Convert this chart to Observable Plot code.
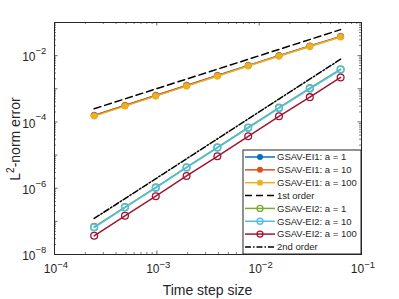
<!DOCTYPE html>
<html>
<head>
<meta charset="utf-8">
<script src="https://cdn.jsdelivr.net/npm/d3@7"></script>
<script src="https://cdn.jsdelivr.net/npm/@observablehq/plot@0.6"></script>
<style>
html,body{margin:0;padding:0;background:#fff;}
#chart{width:399px;height:299px;overflow:hidden;}
</style>
</head>
<body>
<div id="chart"></div>
<script>
// ---- data ----
const dt = [2.44140625e-4, 4.8828125e-4, 9.765625e-4, 1.953125e-3, 3.90625e-3, 7.8125e-3, 1.5625e-2, 3.125e-2, 6.25e-2];
const ei1_a1   = [1.58e-4, 3.15e-4, 6.3e-4, 1.26e-3, 2.52e-3, 5.05e-3, 1.0e-2, 1.95e-2, 3.8e-2];
const ei1_a10  = [1.57e-4, 3.13e-4, 6.25e-4, 1.25e-3, 2.5e-3, 5.0e-3, 9.9e-3, 1.93e-2, 3.75e-2];
const ei1_a100 = [1.5e-4, 3.0e-4, 6.0e-4, 1.2e-3, 2.4e-3, 4.85e-3, 9.6e-3, 1.88e-2, 3.65e-2];
const ei2_a1   = [6.8e-8, 2.7e-7, 1.06e-6, 4.3e-6, 1.72e-5, 6.8e-5, 2.7e-4, 1.05e-3, 3.9e-3];
const ei2_a10  = [6.5e-8, 2.6e-7, 1.02e-6, 4.15e-6, 1.66e-5, 6.55e-5, 2.6e-4, 1.0e-3, 3.75e-3];
const ei2_a100 = [3.66e-8, 1.47e-7, 5.74e-7, 2.34e-6, 9.2e-6, 3.68e-5, 1.48e-4, 5.6e-4, 2.2e-3];
const order1_x = [2.44140625e-4, 6.25e-2];
const order1_y = [2.5e-4, 6.1e-2];
const order2_x = [2.44140625e-4, 6.25e-2];
const order2_y = [1.22e-7, 7.8e-3];

const xTickVals = [1e-4, 1e-3, 1e-2, 1e-1];
const xTickExp  = ["\u22124", "\u22123", "\u22122", "\u22121"];
const yTickVals = [1e-8, 1e-6, 1e-4, 1e-2];
const yTickExp  = ["\u22128", "\u22126", "\u22124", "\u22122"];
const yMajorVals = [1e-8, 1e-7, 1e-6, 1e-5, 1e-4, 1e-3, 1e-2, 1e-1];

const legendLabels = ["GSAV-EI1: a = 1", "GSAV-EI1: a = 10", "GSAV-EI1: a = 100", "1st order",
                      "GSAV-EI2: a = 1", "GSAV-EI2: a = 10", "GSAV-EI2: a = 100", "2nd order"];
const colors = {blue:"#0072BD", orange:"#D95319", yellow:"#EDB120", green:"#77AC30", cyan:"#4DBEEE", red:"#A2142F"};

const xLabel = "Time step size";

// ---- helpers ----
const tbl = (xs, ys) => xs.map((x, i) => ({x, y: ys[i]}));
const minorOf = majors => {
  const out = [];
  for (let i = 0; i < majors.length - 1; i++) for (let k = 2; k <= 9; k++) out.push(majors[i] * k);
  return out;
};

const W = 399, H = 299, mL = 54, mR = 38, mT = 22, mB = 45;
const pW = W - mL - mR, pH = H - mT - mB;
const axisColor = "#262626";
const font = "'Liberation Sans', Arial, Helvetica, sans-serif";

const xMinor = minorOf(xTickVals);
const yMinor = minorOf(yMajorVals);

const series1 = [
  {d: tbl(dt, ei1_a1), c: colors.blue},
  {d: tbl(dt, ei1_a10), c: colors.orange},
  {d: tbl(dt, ei1_a100), c: colors.yellow}
];
const series2 = [
  {d: tbl(dt, ei2_a1), c: colors.green},
  {d: tbl(dt, ei2_a10), c: colors.cyan},
  {d: tbl(dt, ei2_a100), c: colors.red}
];

const marks = [];
// ticks (inside, all four sides)
const majLen = 3.5, minLen = 2;
marks.push(Plot.tickX(xTickVals, {x: d => d, insetTop: pH - majLen, stroke: axisColor, strokeWidth: 0.7}));
marks.push(Plot.tickX(xTickVals, {x: d => d, insetBottom: pH - majLen, stroke: axisColor, strokeWidth: 0.7}));
marks.push(Plot.tickX(xMinor, {x: d => d, insetTop: pH - minLen, stroke: axisColor, strokeWidth: 0.6}));
marks.push(Plot.tickX(xMinor, {x: d => d, insetBottom: pH - minLen, stroke: axisColor, strokeWidth: 0.6}));
marks.push(Plot.tickY(yMajorVals, {y: d => d, insetRight: pW - majLen, stroke: axisColor, strokeWidth: 0.7}));
marks.push(Plot.tickY(yMajorVals, {y: d => d, insetLeft: pW - majLen, stroke: axisColor, strokeWidth: 0.7}));
marks.push(Plot.tickY(yMinor, {y: d => d, insetRight: pW - minLen, stroke: axisColor, strokeWidth: 0.6}));
marks.push(Plot.tickY(yMinor, {y: d => d, insetLeft: pW - minLen, stroke: axisColor, strokeWidth: 0.6}));

// EI1 series
for (const s of series1) {
  marks.push(Plot.line(s.d, {x: "x", y: "y", stroke: s.c, strokeWidth: 1.5}));
  marks.push(Plot.dot(s.d, {x: "x", y: "y", r: 3.2, fill: s.c, stroke: s.c, strokeWidth: 0.5}));
}
marks.push(Plot.line(tbl(order1_x, order1_y), {x: "x", y: "y", stroke: "#000", strokeWidth: 1.5, strokeDasharray: "7,4"}));
for (const s of series2) {
  marks.push(Plot.line(s.d, {x: "x", y: "y", stroke: s.c, strokeWidth: 1.5}));
  marks.push(Plot.dot(s.d, {x: "x", y: "y", r: 3.4, fill: "none", stroke: s.c, strokeWidth: 1.3}));
}
marks.push(Plot.line(tbl(order2_x, order2_y), {x: "x", y: "y", stroke: "#000", strokeWidth: 1.5, strokeDasharray: "6,2,1.5,2"}));

marks.push(Plot.frame({stroke: axisColor, strokeWidth: 1}));

// tick labels: "10" with superscript exponent
marks.push(Plot.text(xTickVals, {x: d => d, frameAnchor: "bottom", text: () => "10", textAnchor: "end", dx: 2.7, dy: 18.5, fontSize: 12, fill: axisColor}));
marks.push(Plot.text(xTickVals, {x: d => d, frameAnchor: "bottom", text: (d, i) => xTickExp[i], textAnchor: "start", dx: 2.7, dy: 13.5, fontSize: 9.5, fill: axisColor}));
marks.push(Plot.text(yTickVals, {y: d => d, frameAnchor: "left", text: () => "10", textAnchor: "end", dx: -19, dy: 2, fontSize: 12, fill: axisColor}));
marks.push(Plot.text(yTickVals, {y: d => d, frameAnchor: "left", text: (d, i) => yTickExp[i], textAnchor: "start", dx: -19, dy: -4.5, fontSize: 9.5, fill: axisColor}));

const chart = Plot.plot({
  width: W, height: H,
  marginLeft: mL, marginRight: mR, marginTop: mT, marginBottom: mB,
  style: {fontFamily: font, background: "#fff", overflow: "visible"},
  x: {type: "log", domain: [1e-4, 1e-1], axis: null},
  y: {type: "log", domain: [1e-8, 1e-1], axis: null},
  marks
});
document.getElementById("chart").appendChild(chart);

// axis labels and legend
const svg = d3.select(chart);
svg.append("text")
  .attr("x", mL + pW / 2).attr("y", 294.5)
  .attr("text-anchor", "middle").attr("font-size", 14).attr("fill", axisColor)
  .attr("font-family", font).text(xLabel);
const yl = svg.append("text")
  .attr("transform", `translate(19.5,${mT + pH / 2 + 1}) rotate(-90)`)
  .attr("text-anchor", "middle").attr("font-size", 14).attr("fill", axisColor)
  .attr("font-family", font);
yl.append("tspan").text("L");
yl.append("tspan").attr("font-size", 10).attr("dy", -5.5).text("2");
yl.append("tspan").attr("dy", 5.5).text("-norm error");

const lg = svg.append("g");
const lx0 = 243, ly0 = 150, lx1 = W - mR, ly1 = H - mB;
lg.append("rect").attr("x", lx0).attr("y", ly0).attr("width", lx1 - lx0).attr("height", ly1 - ly0)
  .attr("fill", "#fff").attr("stroke", axisColor).attr("stroke-width", 1);
const legendStyle = [
  {c: colors.blue, m: "fill"}, {c: colors.orange, m: "fill"}, {c: colors.yellow, m: "fill"},
  {c: "#000", dash: "7,4"},
  {c: colors.green, m: "open"}, {c: colors.cyan, m: "open"}, {c: colors.red, m: "open"},
  {c: "#000", dash: "6,2,1.5,2"}
];
legendLabels.forEach((lab, i) => {
  const y = 157 + i * 12.85;
  const st = legendStyle[i];
  lg.append("line").attr("x1", 245).attr("x2", 275).attr("y1", y).attr("y2", y)
    .attr("stroke", st.c).attr("stroke-width", 1.5).attr("stroke-dasharray", st.dash || null);
  if (st.m === "fill") lg.append("circle").attr("cx", 260).attr("cy", y).attr("r", 3).attr("fill", st.c);
  if (st.m === "open") lg.append("circle").attr("cx", 260).attr("cy", y).attr("r", 3).attr("fill", "none").attr("stroke", st.c).attr("stroke-width", 1.3);
  lg.append("text").attr("x", 277).attr("y", y).attr("dy", "0.35em").attr("text-anchor", "start")
    .attr("font-size", 9.5).attr("font-family", font).attr("fill", axisColor).text(lab);
});
</script>
</body>
</html>
